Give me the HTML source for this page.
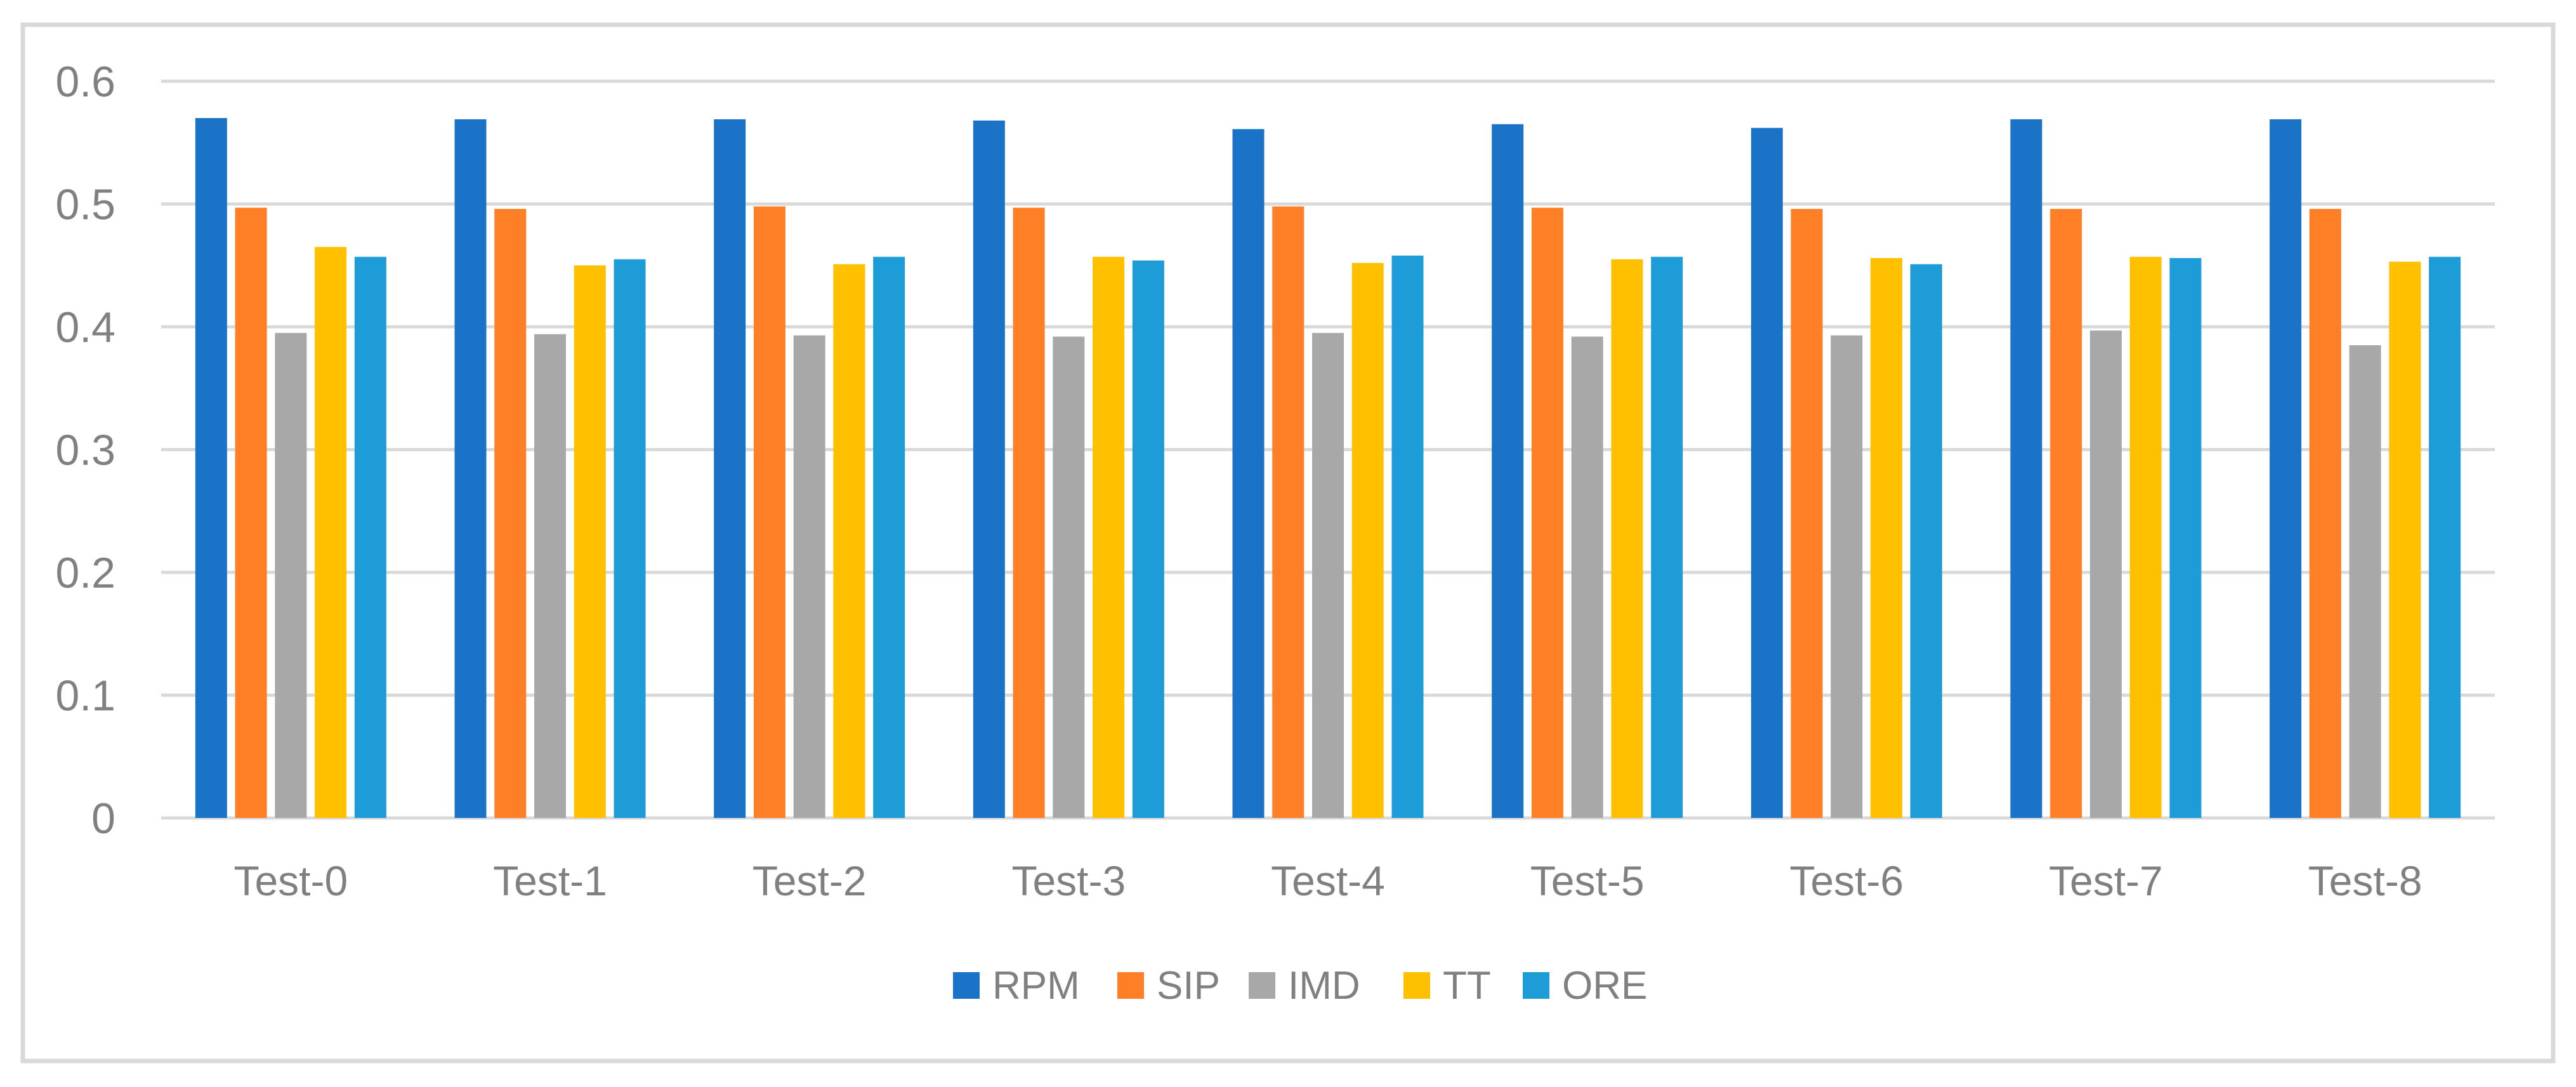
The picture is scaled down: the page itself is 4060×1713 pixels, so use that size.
<!DOCTYPE html>
<html><head><meta charset="utf-8"><style>
html,body{margin:0;padding:0;background:#fff;}
svg{display:block;font-family:"Liberation Sans",sans-serif;}
</style></head><body>
<svg id="chart" width="4060" height="1713" viewBox="0 0 4060 1713">
<rect x="36" y="39" width="3988" height="1633" fill="#fff" stroke="#d9d9d9" stroke-width="7"/>
<g id="grid"></g><g id="bars"></g><g id="labels"></g><g id="legend"></g>
</svg>
<script>
const categories = ["Test-0","Test-1","Test-2","Test-3","Test-4","Test-5","Test-6","Test-7","Test-8"];
const seriesNames = ["RPM","SIP","IMD","TT","ORE"];
const rpm = [0.570,0.569,0.569,0.568,0.561,0.565,0.562,0.569,0.569];
const sip = [0.497,0.496,0.498,0.497,0.498,0.497,0.496,0.496,0.496];
const imd = [0.395,0.394,0.393,0.392,0.395,0.392,0.393,0.397,0.385];
const tt  = [0.465,0.450,0.451,0.457,0.452,0.455,0.456,0.457,0.453];
const ore = [0.457,0.455,0.457,0.454,0.458,0.457,0.451,0.456,0.457];
const yTicks = [0,0.1,0.2,0.3,0.4,0.5,0.6];
const yTickLabels = ["0","0.1","0.2","0.3","0.4","0.5","0.6"];

const series=[rpm,sip,imd,tt,ore];
const colors=["#1a73c6","#ff7f27","#a8a8a8","#ffc000","#1e9cd8"];
const NS="http://www.w3.org/2000/svg";
const L=254,R=3932,T=128,B=1289;
const y=v=>B-(v/0.6)*(B-T);
const cw=(R-L)/categories.length;
const x=i=>L+cw*(i+0.5);
const bw=50,step=62.75;
function mk(t,a,p){const e=document.createElementNS(NS,t);for(const k in a)e.setAttribute(k,a[k]);p.appendChild(e);return e;}
const grid=document.getElementById('grid'),bars=document.getElementById('bars'),labels=document.getElementById('labels'),legend=document.getElementById('legend');
yTicks.forEach((v,i)=>{
  const l=mk('line',{x1:L,x2:R,y1:y(v),y2:y(v),stroke:'#d9d9d9','stroke-width':5},grid);
  
  
  const t=mk('text',{x:182,y:y(v)+24,'text-anchor':'end','font-size':68,fill:'#808080'},labels);
  t.textContent=yTickLabels[i];
  
  
});
categories.forEach((c,i)=>{
  series.forEach((s,j)=>{
    const bx=x(i)+(j-2)*step-bw/2;
    const r=mk('rect',{x:bx,y:y(s[i]),width:bw,height:B-y(s[i]),fill:colors[j]},bars);
    
    
  });
  const t=mk('text',{x:x(i),y:1411,'text-anchor':'middle','font-size':66,fill:'#808080'},labels);
  t.textContent=c;
  
  
});
const lx=[1502,1761,1968,2212,2400];
seriesNames.forEach((n,j)=>{
  const g=mk('g',{},legend);
  
  
  mk('rect',{x:lx[j],y:1532,width:42,height:42,fill:colors[j]},g);
  const t=mk('text',{x:lx[j]+62,y:1574,'font-size':62,fill:'#808080'},g);
  t.textContent=n;
});
</script>
</body></html>
